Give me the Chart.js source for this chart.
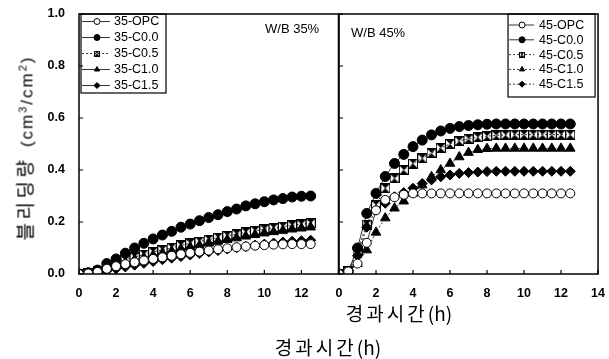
<!DOCTYPE html>
<html>
<head>
<meta charset="utf-8">
<script src="https://cdn.jsdelivr.net/npm/chart.js@4.4.1/dist/chart.umd.min.js"></script>
<style>
  html, body { margin: 0; padding: 0; background: #fff; }
  #wrap { position: relative; width: 609px; height: 359px; overflow: hidden; color: #000;
          font-family: "Liberation Sans", Arial, sans-serif; }
  .box { position: absolute; top: 0; height: 300px; }
  #leftBox { left: 0; width: 345px; }
  #rightBox { left: 330px; width: 279px; }
  .lbl { position: absolute; white-space: nowrap; }
  .kr { font-family: "Noto Sans CJK KR", sans-serif; }
  #ytitle { left: 24px; top: 148px; transform: translate(-50%, -50%) rotate(-90deg); font-size: 17px; }
  #ytitle .kr { font-size: 19px; letter-spacing: 3.5px; }
  #ytitle .cm { letter-spacing: 2px; }
  #ytitle sup { font-size: 11px; vertical-align: 6px; line-height: 0; }
  .xt { font-size: 19px; transform: translate(-50%, -50%); }
  .xt .k { letter-spacing: 3px; }
  #xt1 { left: 399px; top: 312px; }
  #xt2 { left: 328px; top: 346px; }
  .wb { font-size: 13px; transform: translateY(-50%); }
</style>
</head>
<body>
<div id="wrap">
  <div class="box" id="leftBox"><canvas id="c35"></canvas></div>
  <div class="box" id="rightBox"><canvas id="c45"></canvas></div>
  <div class="lbl" id="ytitle"><span class="kr">블리딩량</span>&nbsp; <span class="cm">(cm<sup>3</sup>/cm<sup>2</sup>)</span></div>
  <div class="lbl kr xt" id="xt1"><span class="k">경과시간</span>(h)</div>
  <div class="lbl kr xt" id="xt2"><span class="k">경과시간</span>(h)</div>
  <div class="lbl wb" style="left:265px; top:28px;">W/B 35%</div>
  <div class="lbl wb" style="left:351px; top:32px;">W/B 45%</div>
</div>

<script>
// elapsed time (h)
const hours = [0, 0.5, 1, 1.5, 2, 2.5, 3, 3.5, 4, 4.5, 5, 5.5, 6, 6.5, 7, 7.5, 8, 8.5, 9, 9.5, 10, 10.5, 11, 11.5, 12, 12.5];

// W/B 35%
const opc35 = [0, 0.002, 0.008, 0.02, 0.03, 0.038, 0.045, 0.052, 0.058, 0.064, 0.07, 0.076, 0.081, 0.086, 0.09, 0.095, 0.099, 0.103, 0.106, 0.109, 0.111, 0.113, 0.114, 0.115, 0.115, 0.115];
const c00_35 = [0, 0.005, 0.015, 0.04, 0.058, 0.08, 0.10, 0.118, 0.135, 0.15, 0.164, 0.18, 0.192, 0.205, 0.217, 0.228, 0.24, 0.25, 0.262, 0.27, 0.278, 0.285, 0.29, 0.296, 0.299, 0.30];
const c05_35 = [0, 0.003, 0.01, 0.03, 0.045, 0.055, 0.065, 0.075, 0.085, 0.093, 0.101, 0.11, 0.118, 0.125, 0.132, 0.14, 0.147, 0.153, 0.16, 0.166, 0.172, 0.177, 0.182, 0.187, 0.191, 0.195];
const c10_35 = [0, 0.002, 0.008, 0.022, 0.035, 0.045, 0.055, 0.063, 0.072, 0.08, 0.088, 0.096, 0.103, 0.11, 0.118, 0.125, 0.132, 0.138, 0.145, 0.151, 0.157, 0.162, 0.167, 0.172, 0.176, 0.18];
const c15_35 = [0, 0.001, 0.005, 0.012, 0.02, 0.027, 0.034, 0.041, 0.048, 0.055, 0.061, 0.067, 0.073, 0.079, 0.085, 0.09, 0.096, 0.101, 0.106, 0.111, 0.115, 0.119, 0.123, 0.126, 0.128, 0.13];

// W/B 45%
const opc45 = [0, 0.01, 0.04, 0.12, 0.245, 0.285, 0.295, 0.305, 0.31, 0.31, 0.31, 0.31, 0.31, 0.31, 0.31, 0.31, 0.31, 0.31, 0.31, 0.31, 0.31, 0.31, 0.31, 0.31, 0.31, 0.31];
const c00_45 = [0, 0.01, 0.1, 0.233, 0.31, 0.375, 0.425, 0.46, 0.49, 0.515, 0.535, 0.55, 0.56, 0.567, 0.571, 0.574, 0.576, 0.577, 0.577, 0.577, 0.577, 0.577, 0.577, 0.577, 0.577, 0.577];
const c05_45 = [0, 0.01, 0.09, 0.19, 0.265, 0.33, 0.368, 0.40, 0.425, 0.445, 0.465, 0.485, 0.50, 0.512, 0.52, 0.526, 0.53, 0.533, 0.535, 0.536, 0.536, 0.536, 0.536, 0.536, 0.536, 0.536];
const c10_45 = [0, 0.008, 0.04, 0.092, 0.16, 0.215, 0.253, 0.28, 0.31, 0.342, 0.374, 0.40, 0.425, 0.45, 0.467, 0.478, 0.482, 0.483, 0.483, 0.483, 0.483, 0.483, 0.483, 0.483, 0.483, 0.483];
const c15_45 = [0, 0.012, 0.07, 0.18, 0.246, 0.272, 0.297, 0.313, 0.33, 0.348, 0.362, 0.374, 0.381, 0.387, 0.39, 0.392, 0.394, 0.395, 0.395, 0.395, 0.395, 0.395, 0.395, 0.395, 0.395, 0.395];

const labels35 = ["35-OPC", "35-C0.0", "35-C0.5", "35-C1.0", "35-C1.5"];
const labels45 = ["45-OPC", "45-C0.0", "45-C0.5", "45-C1.0", "45-C1.5"];
const xTicks = [0, 2, 4, 6, 8, 10, 12, 14];
const yTicks = [0, 0.2, 0.4, 0.6, 0.8, 1.0];

Chart.defaults.font.family = '"Liberation Sans", Arial, sans-serif';
Chart.defaults.color = "#000";

// square-ish hourglass marker used for the C0.5 series
function hourglass(size) {
  const c = document.createElement("canvas");
  c.width = size; c.height = size;
  const g = c.getContext("2d");
  g.fillStyle = "#000";
  g.strokeStyle = "#000";
  g.lineWidth = 1;
  g.strokeRect(0.5, 0.5, size - 1, size - 1);
  g.beginPath();
  g.moveTo(0, 0); g.lineTo(size, 0); g.lineTo(size / 2, size / 2); g.closePath();
  g.moveTo(0, size); g.lineTo(size, size); g.lineTo(size / 2, size / 2); g.closePath();
  g.fill();
  return c;
}
const hgBig = hourglass(10);
const hgSmall = hourglass(6);

function toXY(vals) {
  return vals.map((v, i) => ({ x: hours[i], y: v }));
}

function makeSets(labels, series, dashes) {
  const styles = [
    { pointStyle: "circle", bg: "#fff", r: 4.5, lg: "circle" },
    { pointStyle: "circle", bg: "#000", r: 5, lg: "circle" },
    { pointStyle: hgBig, bg: "#000", r: 5, lg: hgSmall },
    { pointStyle: "triangle", bg: "#000", r: 5.5, lg: "triangle" },
    { pointStyle: "rectRot", bg: "#000", r: 5, lg: "rectRot" }
  ];
  return series.map((vals, i) => ({
    label: labels[i],
    data: toXY(vals),
    borderColor: "#000",
    borderWidth: 0.8,
    borderDash: dashes[i],
    pointStyle: styles[i].pointStyle,
    legendStyle: styles[i].lg,
    pointRadius: styles[i].r,
    pointBackgroundColor: styles[i].bg,
    pointBorderColor: "#000",
    pointBorderWidth: 1,
    tension: 0
  }));
}

// frame + inward tick marks
const framePlugin = {
  id: "frame",
  afterDraw(chart) {
    const ctx = chart.ctx, a = chart.chartArea;
    const xs = chart.scales.x, ys = chart.scales.y;
    ctx.save();
    ctx.strokeStyle = "#000";
    ctx.lineWidth = 1.5;
    ctx.strokeRect(a.left, a.top, a.right - a.left, a.bottom - a.top);
    ctx.lineWidth = 1.2;
    ctx.beginPath();
    xTicks.forEach(t => {
      const px = xs.getPixelForValue(t);
      ctx.moveTo(px, a.bottom); ctx.lineTo(px, a.bottom - 4);
    });
    yTicks.forEach(t => {
      const py = ys.getPixelForValue(t);
      ctx.moveTo(a.left, py); ctx.lineTo(a.left + 4, py);
    });
    ctx.stroke();
    ctx.restore();
  }
};

// boxed legend drawn inside the plot area
const boxLegend = {
  id: "boxLegend",
  afterDatasetsDraw(chart, args, o) {
    const ctx = chart.ctx, a = chart.chartArea;
    const sets = chart.data.datasets;
    const x0 = o.align === "left" ? a.left + o.dx : a.right - o.dx - o.width;
    const y0 = a.top + o.dy;
    ctx.save();
    ctx.fillStyle = "#fff";
    ctx.fillRect(x0, y0, o.width, o.height);
    ctx.strokeStyle = "#000";
    ctx.lineWidth = 1.2;
    ctx.strokeRect(x0, y0, o.width, o.height);
    sets.forEach((ds, i) => {
      const cy = y0 + o.first + i * o.step;
      ctx.lineWidth = 0.8;
      ctx.setLineDash(ds.borderDash || []);
      ctx.beginPath();
      ctx.moveTo(x0 + 1, cy); ctx.lineTo(x0 + o.lineLen, cy);
      ctx.stroke();
      ctx.setLineDash([]);
      ctx.fillStyle = ds.pointBackgroundColor;
      ctx.lineWidth = 1;
      Chart.helpers.drawPoint(ctx, { pointStyle: ds.legendStyle, radius: 3, borderWidth: 1, rotation: 0 }, x0 + o.markX, cy);
      ctx.fillStyle = "#000";
      ctx.font = '12.5px "Liberation Sans", Arial, sans-serif';
      ctx.textBaseline = "middle";
      ctx.fillText(ds.label, x0 + o.textX, cy + 0.5);
    });
    ctx.restore();
  }
};

function makeChart(id, sets, showY, lastLabel, legendOpts, pad) {
  return new Chart(document.getElementById(id), {
    type: "line",
    data: { datasets: sets },
    plugins: [framePlugin, boxLegend],
    options: {
      responsive: true,
      maintainAspectRatio: false,
      animation: false,
      layout: { padding: pad },
      plugins: {
        legend: { display: false },
        tooltip: { enabled: false },
        boxLegend: legendOpts
      },
      scales: {
        x: {
          type: "linear",
          min: 0, max: 14,
          afterBuildTicks: s => { s.ticks = xTicks.map(v => ({ value: v })); },
          grid: { display: false },
          border: { display: false },
          ticks: {
            padding: 4,
            maxRotation: 0,
            font: { size: 12.5, weight: "bold" },
            callback: v => (v === 14 && !lastLabel) ? "" : String(v)
          },
          afterFit: s => { s.height = 26; }
        },
        y: {
          min: 0, max: 1.0,
          afterBuildTicks: s => { s.ticks = yTicks.map(v => ({ value: v })); },
          grid: { display: false },
          border: { display: false },
          ticks: {
            display: showY,
            padding: 6,
            font: { size: 12.5, weight: "bold" },
            callback: v => Number(v).toFixed(1)
          },
          afterFit: s => { s.width = showY ? 79 : 0; }
        }
      }
    }
  });
}

makeChart("c35",
  makeSets(labels35, [opc35, c00_35, c05_35, c10_35, c15_35], [[], [], [2, 2], [], []]),
  true, false,
  { align: "left", dx: 2, dy: 0, width: 85, height: 79, first: 7.5, step: 16, lineLen: 29, markX: 16, textX: 33 },
  { top: 14, left: 0, right: 6, bottom: 0 });

makeChart("c45",
  makeSets(labels45, [opc45, c00_45, c05_45, c10_45, c15_45], [[], [], [2, 2], [2, 2], [2, 2]]),
  false, true,
  { align: "right", dx: 3, dy: 0, width: 87, height: 83, first: 11, step: 14.8, lineLen: 26, markX: 14, textX: 31 },
  { top: 14, left: 9, right: 7, bottom: 0 });
</script>
</body>
</html>
